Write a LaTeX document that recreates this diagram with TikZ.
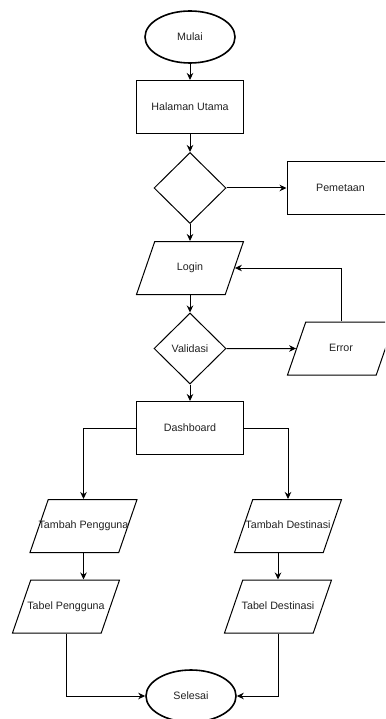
\documentclass[tikz,border=0pt]{standalone}
\usepackage{fontspec}
\setmainfont{Liberation Sans}
\usetikzlibrary{shapes.geometric, arrows.meta}
\definecolor{fcline}{RGB}{0, 0, 0}
\definecolor{fctext}{RGB}{34, 34, 34}
\newcommand{\wide}[1]{\makebox[0pt]{#1}}

\begin{document}
\begin{tikzpicture}[x=1pt, y=-1pt,
  font=\fontsize{10.7}{12}\selectfont,
  every node/.style={text=fctext},
  terminal/.style={ellipse, draw=fcline, line width=1.6pt, minimum width=90pt, minimum height=52pt, inner sep=0pt},
  process/.style={rectangle, draw=fcline, line width=1pt, minimum width=107pt, minimum height=53pt, inner sep=0pt},
  decision/.style={diamond, draw=fcline, line width=1pt, minimum width=72pt, minimum height=71pt, inner sep=0pt},
  io/.style={trapezium, trapezium left angle=71, trapezium right angle=109, trapezium stretches body=true, draw=fcline, line width=1pt, minimum width=107pt, text height=8pt, text depth=2.5pt, inner xsep=0pt, inner ysep=21.25pt},
  flow/.style={draw=fcline, line width=1pt, -{Stealth[length=7pt, width=6.5pt]}}]
\useasboundingbox (0,0) rectangle (385,719);
\clip (0,0) rectangle (385,719);

% Shapes
\node[terminal] (mulai) at (190,37) {Mulai};
\node[process] (halaman) at (190,107) {Halaman Utama};
\node[decision] (pilih) at (190,188) {};
\node[process] (pemetaan) at (340.5,188) {Pemetaan};
\node[io] (login) at (190,268) {\wide{Login}};
\node[decision] (validasi) at (190,348.5) {Validasi};
\node[io] (error) at (341,348.5) {\wide{Error}};
\node[process] (dashboard) at (190,428) {Dashboard};
\node[io] (tambahP) at (83.5,526) {\wide{Tambah Pengguna}};
\node[io] (tambahD) at (288,526) {\wide{Tambah Destinasi}};
\node[io] (tabelP) at (66,606.5) {\wide{Tabel Pengguna}};
\node[io] (tabelD) at (278,606.5) {\wide{Tabel Destinasi}};
\node[terminal] (selesai) at (191,696) {Selesai};

% Arrows
\draw[flow] (mulai) -- (halaman);
\draw[flow] (halaman) -- (pilih);
\draw[flow] (pilih) -- (pemetaan);
\draw[flow] (pilih) -- (login);
\draw[flow] (login) -- (validasi);
\draw[flow] (validasi) -- (error);
\draw[flow] (error.north) |- (login.east);
\draw[flow] (validasi) -- (dashboard);
\draw[flow] (dashboard.west) -| (tambahP.north);
\draw[flow] (dashboard.east) -| (tambahD.north);
\draw[flow] (tambahP.south) -- (tambahP.south |- tabelP.north);
\draw[flow] (tambahD.south -| tabelD.north) -- (tabelD.north);
\draw[flow] (tabelP.south) |- (selesai.west);
\draw[flow] (tabelD.south) |- (selesai.east);
\end{tikzpicture}
\end{document}
